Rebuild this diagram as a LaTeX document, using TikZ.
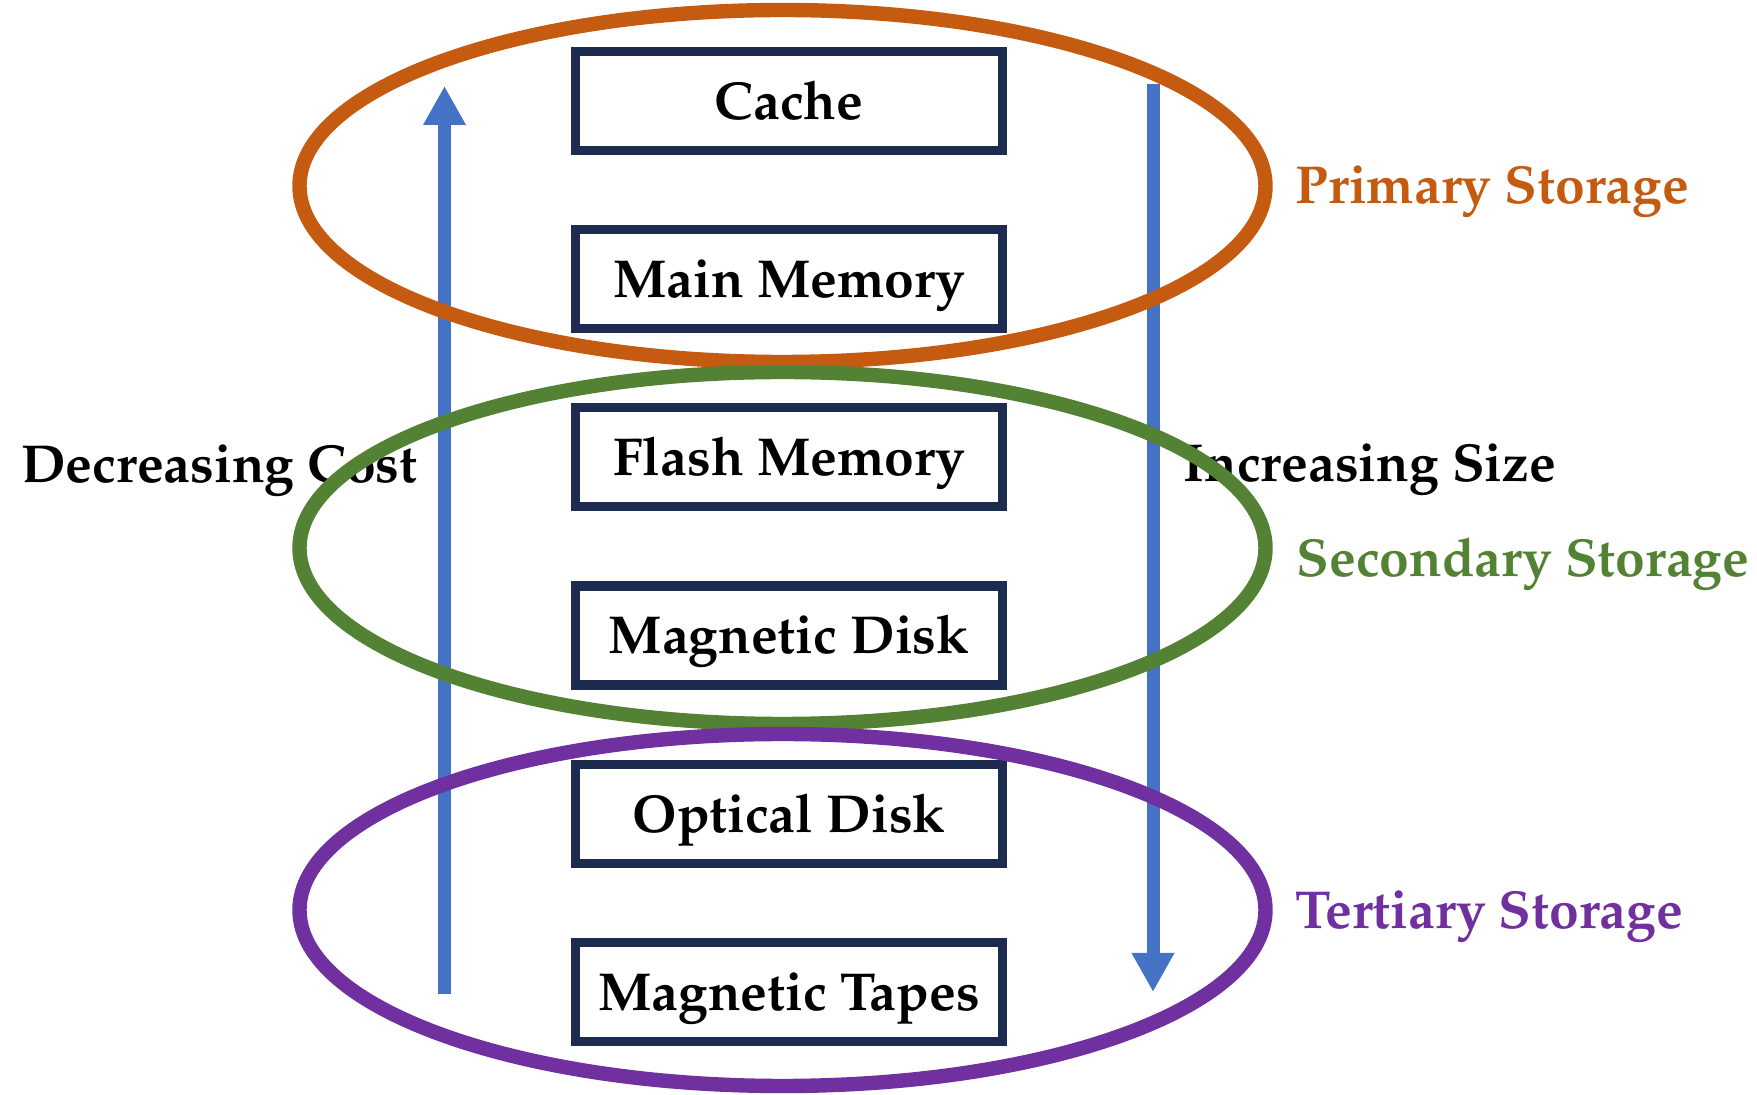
\documentclass[tikz,border=0pt]{standalone}
\usepackage[T1]{fontenc}
\renewcommand{\rmdefault}{ppl}
\usetikzlibrary{arrows.meta}
\definecolor{boxc}{HTML}{1C2B4F}
\definecolor{flowc}{HTML}{4472C4}
\definecolor{primc}{HTML}{C55A11}
\definecolor{secc}{HTML}{548235}
\definecolor{terc}{HTML}{7030A0}
\tikzset{
  level/.style={draw=boxc, line width=2.6pt, minimum width=4.27cm, minimum height=0.99cm,
    text height=0.37cm, text depth=0pt, inner sep=0pt, font=\bfseries\fontsize{15.2}{18}\selectfont},
  lab/.style={anchor=base west, inner sep=0pt, font=\bfseries\fontsize{15.2}{18}\selectfont},
  flow/.style={draw=flowc, line width=3.7pt, -{Triangle[length=0.39cm,width=0.40cm]}},
  ring/.style={line width=4.1pt}
}
\begin{document}
\begin{tikzpicture}
  \useasboundingbox (0,0) rectangle (17.57,-10.95);
  \def\bx{7.89}
  \node[level] (cache) at (\bx,-1.01) {Cache};
  \node[level] (main) at (\bx,-2.79) {Main Memory};
  \node[level] (flash) at (\bx,-4.57) {Flash Memory};
  \node[level] (mdisk) at (\bx,-6.355) {Magnetic Disk};
  \node[level] (odisk) at (\bx,-8.14) {Optical Disk};
  \node[level] (tapes) at (\bx,-9.92) {Magnetic Tapes};
  \coordinate (costlow) at (4.445,-9.94);
  \coordinate (costhigh) at (4.445,-0.86);
  \coordinate (sizelow) at (11.53,-0.84);
  \coordinate (sizehigh) at (11.53,-9.92);
  \draw[flow] (costlow) -- (costhigh);
  \draw[flow] (sizelow) -- (sizehigh);
  \node[lab] (cost) at (0.207,-4.83) {Decreasing Cost};
  \node[lab] (size) at (11.83,-4.817) {Increasing Size};
  \draw[ring, primc] (7.825,-1.86) ellipse [x radius=4.83, y radius=1.76];
  \draw[ring, secc] (7.825,-5.48) ellipse [x radius=4.83, y radius=1.76];
  \draw[ring, terc] (7.825,-9.10) ellipse [x radius=4.83, y radius=1.76];
  \node[lab, primc] (prim) at (12.95,-2.04) {Primary Storage};
  \node[lab, secc] (sec) at (12.96,-5.767) {Secondary Storage};
  \node[lab, terc] (ter) at (12.95,-9.29) {Tertiary Storage};
\end{tikzpicture}
\end{document}
